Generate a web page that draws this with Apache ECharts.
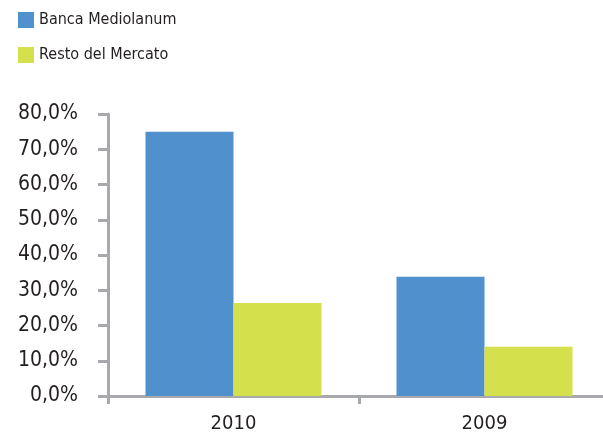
<!DOCTYPE html>
<html><head><meta charset="utf-8">
<script src="https://cdn.jsdelivr.net/npm/echarts@6/dist/echarts.min.js"></script>
<style>html,body{margin:0;padding:0;background:#fff;overflow:hidden}#c{width:610px;height:434px}</style>
</head><body><div id="c"></div>
<script>
const categories = ['2010', '2009'];
const seriesNames = ['Banca Mediolanum', 'Resto del Mercato'];
const bancaMediolanum = [75.0, 33.8];
const restoDelMercato = [26.4, 14.0];
const yTicks = { min: 0, max: 80, interval: 10 };

const FONT = '"DejaVu Sans Condensed", "DejaVu Sans", sans-serif';
const AXIS = '#a7a9ac';
const chart = echarts.init(document.getElementById('c'));
chart.setOption({
  animation: false,
  legend: {
    orient: 'vertical', left: 18, top: 12, padding: 0,
    itemWidth: 16, itemHeight: 16, itemGap: 19,
    icon: 'rect',
    textStyle: { fontFamily: FONT, fontSize: 16, color: '#231f20' },
    data: seriesNames
  },
  grid: { left: 108, right: 0, top: 114, bottom: 36 },
  xAxis: {
    type: 'category', data: categories,
    axisLine: { lineStyle: { color: AXIS, width: 3 } },
    axisTick: { show: true, length: 8, lineStyle: { color: AXIS, width: 3 } },
    axisLabel: { fontFamily: FONT, fontSize: 20, color: '#231f20', margin: 18 }
  },
  yAxis: {
    type: 'value', min: yTicks.min, max: yTicks.max, interval: yTicks.interval,
    axisLine: { show: true, lineStyle: { color: AXIS, width: 3 } },
    axisTick: { show: true, length: 10, lineStyle: { color: AXIS, width: 3 } },
    splitLine: { show: false },
    axisLabel: { fontFamily: FONT, fontSize: 21, color: '#231f20', margin: 30,
      formatter: v => v.toFixed(1).replace('.', ',') + '%' }
  },
  series: [
    { name: seriesNames[0], type: 'bar', data: bancaMediolanum, barWidth: 88, barGap: '0%',
      itemStyle: { color: '#4f90cd' } },
    { name: seriesNames[1], type: 'bar', data: restoDelMercato, barWidth: 88, barGap: '0%',
      itemStyle: { color: '#d5e04d' } }
  ]
});
</script></body></html>
